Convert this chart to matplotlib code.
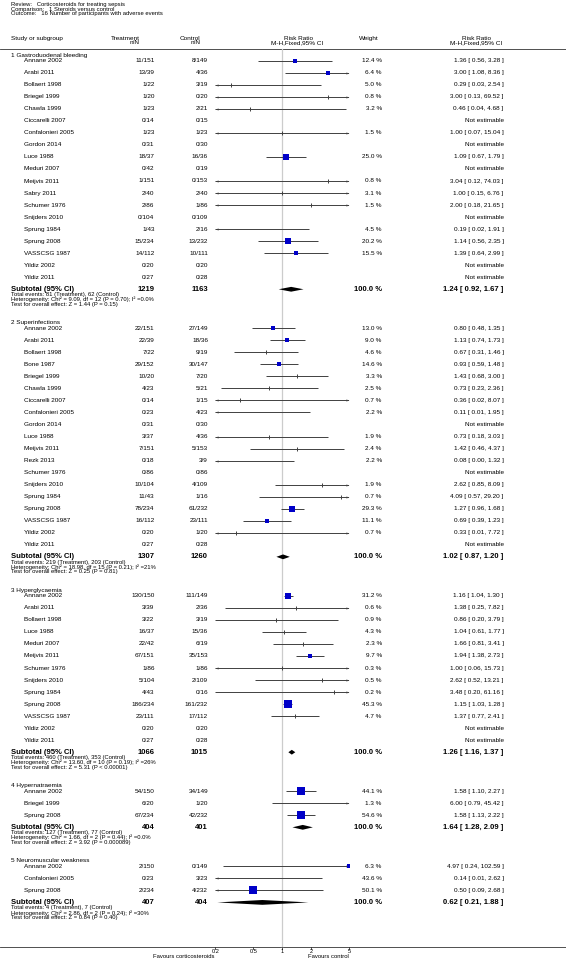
import numpy as np
import matplotlib
matplotlib.use("Agg")
import matplotlib.pyplot as plt
from matplotlib.patches import Polygon

plt.rcParams['font.family'] = ['Liberation Sans', 'DejaVu Sans']

# ---- data ----
group_names = ["1 Gastroduodenal bleeding", "2 Superinfections", "3 Hyperglycaemia",
               "4 Hypernatraemia", "5 Neuromuscular weakness"]

# group 1
g1_study = ["Annane 2002", "Arabi 2011", "Bollaert 1998", "Briegel 1999", "Chawla 1999",
            "Ciccarelli 2007", "Confalonieri 2005", "Gordon 2014", "Luce 1988", "Meduri 2007",
            "Meijvis 2011", "Sabry 2011", "Schumer 1976", "Snijders 2010", "Sprung 1984",
            "Sprung 2008", "VASSCSG 1987", "Yildiz 2002", "Yildiz 2011"]
g1_trt = ["11/151", "13/39", "1/22", "1/20", "1/23", "0/14", "1/23", "0/31", "18/37", "0/42",
          "1/151", "2/40", "2/86", "0/104", "1/43", "15/234", "14/112", "0/20", "0/27"]
g1_ctl = ["8/149", "4/36", "3/19", "0/20", "2/21", "0/15", "1/23", "0/30", "16/36", "0/19",
          "0/153", "2/40", "1/86", "0/109", "2/16", "13/232", "10/111", "0/20", "0/28"]
g1_wt = [12.4, 6.4, 5.0, 0.8, 3.2, None, 1.5, None, 25.0, None,
         0.8, 3.1, 1.5, None, 4.5, 20.2, 15.5, None, None]
g1_rr = [1.36, 3.00, 0.29, 3.00, 0.46, None, 1.00, None, 1.09, None,
         3.04, 1.00, 2.00, None, 0.19, 1.14, 1.39, None, None]
g1_lo = [0.56, 1.08, 0.03, 0.13, 0.04, None, 0.07, None, 0.67, None,
         0.12, 0.15, 0.18, None, 0.02, 0.56, 0.64, None, None]
g1_hi = [3.28, 8.36, 2.54, 69.52, 4.68, None, 15.04, None, 1.79, None,
         74.03, 6.76, 21.65, None, 1.91, 2.35, 2.99, None, None]

# group 2
g2_study = ["Annane 2002", "Arabi 2011", "Bollaert 1998", "Bone 1987", "Briegel 1999",
            "Chawla 1999", "Ciccarelli 2007", "Confalonieri 2005", "Gordon 2014", "Luce 1988",
            "Meijvis 2011", "Rezk 2013", "Schumer 1976", "Snijders 2010", "Sprung 1984",
            "Sprung 2008", "VASSCSG 1987", "Yildiz 2002", "Yildiz 2011"]
g2_trt = ["22/151", "22/39", "7/22", "29/152", "10/20", "4/23", "0/14", "0/23", "0/31", "3/37",
          "7/151", "0/18", "0/86", "10/104", "11/43", "78/234", "16/112", "0/20", "0/27"]
g2_ctl = ["27/149", "18/36", "9/19", "30/147", "7/20", "5/21", "1/15", "4/23", "0/30", "4/36",
          "5/153", "3/9", "0/86", "4/109", "1/16", "61/232", "23/111", "1/20", "0/28"]
g2_wt = [13.0, 9.0, 4.6, 14.6, 3.3, 2.5, 0.7, 2.2, None, 1.9,
         2.4, 2.2, None, 1.9, 0.7, 29.3, 11.1, 0.7, None]
g2_rr = [0.80, 1.13, 0.67, 0.93, 1.43, 0.73, 0.36, 0.11, None, 0.73,
         1.42, 0.08, None, 2.62, 4.09, 1.27, 0.69, 0.33, None]
g2_lo = [0.48, 0.74, 0.31, 0.59, 0.68, 0.23, 0.02, 0.01, None, 0.18,
         0.46, 0.00, None, 0.85, 0.57, 0.96, 0.39, 0.01, None]
g2_hi = [1.35, 1.73, 1.46, 1.48, 3.00, 2.36, 8.07, 1.95, None, 3.03,
         4.37, 1.32, None, 8.09, 29.20, 1.68, 1.23, 7.72, None]

# group 3
g3_study = ["Annane 2002", "Arabi 2011", "Bollaert 1998", "Luce 1988", "Meduri 2007",
            "Meijvis 2011", "Schumer 1976", "Snijders 2010", "Sprung 1984", "Sprung 2008",
            "VASSCSG 1987", "Yildiz 2002", "Yildiz 2011"]
g3_trt = ["130/150", "3/39", "3/22", "16/37", "22/42", "67/151", "1/86", "5/104", "4/43",
          "186/234", "23/111", "0/20", "0/27"]
g3_ctl = ["111/149", "2/36", "3/19", "15/36", "6/19", "35/153", "1/86", "2/109", "0/16",
          "161/232", "17/112", "0/20", "0/28"]
g3_wt = [31.2, 0.6, 0.9, 4.3, 2.3, 9.7, 0.3, 0.5, 0.2, 45.3, 4.7, None, None]
g3_rr = [1.16, 1.38, 0.86, 1.04, 1.66, 1.94, 1.00, 2.62, 3.48, 1.15, 1.37, None, None]
g3_lo = [1.04, 0.25, 0.20, 0.61, 0.81, 1.38, 0.06, 0.52, 0.20, 1.03, 0.77, None, None]
g3_hi = [1.30, 7.82, 3.79, 1.77, 3.41, 2.73, 15.73, 13.21, 61.16, 1.28, 2.41, None, None]

# group 4
g4_study = ["Annane 2002", "Briegel 1999", "Sprung 2008"]
g4_trt = ["54/150", "6/20", "67/234"]
g4_ctl = ["34/149", "1/20", "42/232"]
g4_wt = [44.1, 1.3, 54.6]
g4_rr = [1.58, 6.00, 1.58]
g4_lo = [1.10, 0.79, 1.13]
g4_hi = [2.27, 45.42, 2.22]

# group 5
g5_study = ["Annane 2002", "Confalonieri 2005", "Sprung 2008"]
g5_trt = ["2/150", "0/23", "2/234"]
g5_ctl = ["0/149", "3/23", "4/232"]
g5_wt = [6.3, 43.6, 50.1]
g5_rr = [4.97, 0.14, 0.50]
g5_lo = [0.24, 0.01, 0.09]
g5_hi = [102.59, 2.62, 2.68]

# subtotals per group
sub_trt_n = [1219, 1307, 1066, 404, 407]
sub_ctl_n = [1163, 1260, 1015, 401, 404]
sub_rr = [1.24, 1.02, 1.26, 1.64, 0.62]
sub_lo = [0.92, 0.87, 1.16, 1.28, 0.21]
sub_hi = [1.67, 1.20, 1.37, 2.09, 1.88]
ev_trt = [81, 219, 460, 127, 4]
ev_ctl = [62, 203, 353, 77, 7]
het_chi = ["9.09", "18.98", "13.60", "1.66", "2.86"]
het_df = [12, 15, 10, 2, 2]
het_p = ["0.70", "0.21", "0.19", "0.44", "0.24"]
het_i2 = ["0.0%", "21%", "26%", "0.0%", "30%"]
z_val = ["1.44", "0.25", "5.31", "3.92", "0.84"]
z_p = ["P = 0.15", "P = 0.81", "P < 0.00001", "P = 0.000089", "P = 0.40"]

tick_vals = [0.2, 0.5, 1, 2, 5]
tick_labels = ["0.2", "0.5", "1", "2", "5"]

studies = [g1_study, g2_study, g3_study, g4_study, g5_study]
trts = [g1_trt, g2_trt, g3_trt, g4_trt, g5_trt]
ctls = [g1_ctl, g2_ctl, g3_ctl, g4_ctl, g5_ctl]
wts = [g1_wt, g2_wt, g3_wt, g4_wt, g5_wt]
rrs = [g1_rr, g2_rr, g3_rr, g4_rr, g5_rr]
los = [g1_lo, g2_lo, g3_lo, g4_lo, g5_lo]
his = [g1_hi, g2_hi, g3_hi, g4_hi, g5_hi]

# ---- layout (pixels) ----
W, H = 566, 976
ROW = 12.03
HDR_GAP = 5.7
GROUP_GAP = 33.3
X_GRP, X_STUDY = 11, 23.6
X_TRT, X_CTL = 154.5, 208
FX0, FX1 = 215.3, 349.1
XMIN, XMAX = 0.2, 5.0
X_WT, X_RR = 381.8, 503.6
Y_RULE, Y_AXIS = 49, 946.7

CI_COL = "#404040"
BOX_COL = "#0000c8"
FS = 4.55     # study rows
FS_B = 5.5    # subtotal rows
FS_S = 4.2    # title and statistics lines
FS_H = 4.6    # column headers

fig = plt.figure(figsize=(W / 100, H / 100), dpi=100)
ax = fig.add_axes([0, 0, 1, 1])
ax.set_xlim(0, W)
ax.set_ylim(H, 0)
ax.axis('off')

# forest panel on a log scale, sharing the pixel y coordinates
axf = fig.add_axes([FX0 / W, 0, (FX1 - FX0) / W, 1])
axf.set_xscale('log')
axf.set_xlim(XMIN, XMAX)
axf.set_ylim(H, 0)
axf.axis('off')


def txt(x, y, s, ha='left', size=FS, weight='normal'):
    ax.text(x, y, s, ha=ha, va='center', fontsize=size, fontweight=weight)


LARR = [(0, 0), (1, 0.32), (1, -0.32), (0, 0)]
RARR = [(0, 0), (-1, 0.32), (-1, -0.32), (0, 0)]


def draw_ci(y, rr, lo, hi, w):
    a = max(lo, XMIN)
    b = min(hi, XMAX)
    axf.plot([a, b], [y, y], color=CI_COL, lw=0.7, solid_capstyle='butt')
    if lo < XMIN:
        axf.plot([XMIN], [y], marker=LARR, ms=4.5, color=CI_COL, mew=0, clip_on=False)
    if hi > XMAX:
        axf.plot([XMAX], [y], marker=RARR, ms=4.5, color=CI_COL, mew=0, clip_on=False)
    if XMIN <= rr <= XMAX:
        side = 1.2 * np.sqrt(w)
        if side >= 2.8:
            axf.plot([rr], [y], marker='s', ms=side * 0.72, color=BOX_COL, mew=0)
        else:
            axf.plot([rr], [y], marker='|', ms=2.6, color=CI_COL, mew=0.7)


# title block
txt(X_GRP, 4.6, "Review:   Corticosteroids for treating sepsis", size=FS_S)
txt(X_GRP, 9.3, "Comparison:   1 Steroids versus control", size=FS_S)
txt(X_GRP, 14.0, "Outcome:   16 Number of participants with adverse events", size=FS_S)

# column headers
txt(X_GRP, 38.3, "Study or subgroup", size=FS_H)
txt(140, 38.3, "Treatment", ha='right', size=FS_H)
txt(140, 42.8, "n/N", ha='right', size=FS_H)
txt(200.7, 38.3, "Control", ha='right', size=FS_H)
txt(200.7, 42.8, "n/N", ha='right', size=FS_H)
txt(298, 38.3, "Risk Ratio", ha='center', size=FS_H)
txt(297.5, 42.8, "M-H,Fixed,95% CI", ha='center', size=FS_H)
txt(369, 38.3, "Weight", ha='center', size=FS_H)
txt(476, 38.3, "Risk Ratio", ha='center', size=FS_H)
txt(476, 42.8, "M-H,Fixed,95% CI", ha='center', size=FS_H)
ax.plot([0, W], [Y_RULE, Y_RULE], color='#333333', lw=0.6)

# no-effect line
axf.plot([1, 1], [Y_RULE, Y_AXIS], color='#cccccc', lw=0.9, zorder=0)

y = 55.0
for gi in range(len(group_names)):
    txt(X_GRP, y, group_names[gi])
    y += HDR_GAP
    for j, name in enumerate(studies[gi]):
        txt(X_STUDY, y, name)
        txt(X_TRT, y, trts[gi][j], ha='right')
        txt(X_CTL, y, ctls[gi][j], ha='right')
        w = wts[gi][j]
        if w is None:
            txt(X_RR, y, "Not estimable", ha='right')
        else:
            rr, lo, hi = rrs[gi][j], los[gi][j], his[gi][j]
            txt(X_WT, y, f"{w:.1f} %", ha='right')
            txt(X_RR, y, f"{rr:.2f} [ {lo:.2f}, {hi:.2f} ]", ha='right')
            draw_ci(y, rr, lo, hi, w)
        y += ROW

    # subtotal row with diamond
    txt(X_GRP, y, "Subtotal (95% CI)", size=FS_B, weight='bold')
    txt(X_TRT, y, str(sub_trt_n[gi]), ha='right', size=FS_B, weight='bold')
    txt(X_CTL, y, str(sub_ctl_n[gi]), ha='right', size=FS_B, weight='bold')
    txt(X_WT, y, "100.0 %", ha='right', size=FS_B, weight='bold')
    txt(X_RR, y, f"{sub_rr[gi]:.2f} [ {sub_lo[gi]:.2f}, {sub_hi[gi]:.2f} ]",
        ha='right', size=FS_B, weight='bold')
    dh = 2.4
    axf.add_patch(Polygon([(sub_lo[gi], y), (sub_rr[gi], y - dh), (sub_hi[gi], y),
                           (sub_rr[gi], y + dh)], closed=True, color='black', lw=0))

    txt(X_GRP, y + 5.5, f"Total events: {ev_trt[gi]} (Treatment), {ev_ctl[gi]} (Control)", size=FS_S)
    txt(X_GRP, y + 10.3, f"Heterogeneity: Chi\u00b2 = {het_chi[gi]}, df = {het_df[gi]} "
                         f"(P = {het_p[gi]}); I\u00b2 ={het_i2[gi]}", size=FS_S)
    txt(X_GRP, y + 15.1, f"Test for overall effect: Z = {z_val[gi]} ({z_p[gi]})", size=FS_S)
    y += GROUP_GAP

# bottom axis
ax.plot([0, W], [Y_AXIS, Y_AXIS], color='#333333', lw=0.6)
for v, lab in zip(tick_vals, tick_labels):
    axf.plot([v, v], [Y_AXIS, Y_AXIS + 2], color='#333333', lw=0.6, clip_on=False)
    axf.text(v, Y_AXIS + 5, lab, ha='center', va='center', fontsize=4.1)
txt(214.5, 956, "Favours corticosteroids", ha='right', size=4.2)
txt(349, 956, "Favours control", ha='right', size=4.2)

fig.savefig("out.png", dpi=100)
